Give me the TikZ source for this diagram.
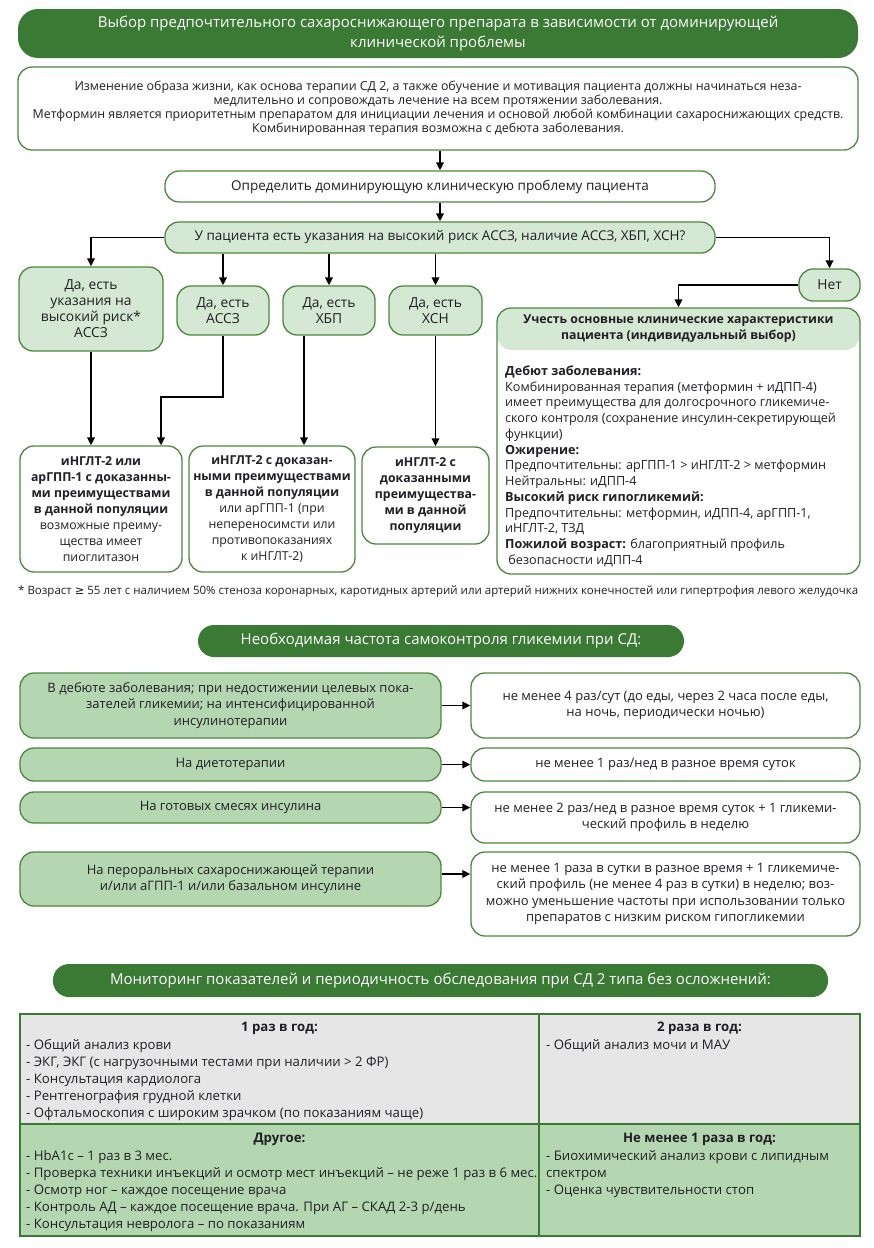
\documentclass[tikz,border=0pt]{standalone}
\usepackage{fontspec}
\usepackage{tikz}
\usetikzlibrary{arrows.meta}
\setmainfont{Open Sans}
\newfontfamily\symfont{DejaVu Sans}

\definecolor{dkgreen}{RGB}{58,122,52}
\definecolor{bordgreen}{RGB}{78,134,64}
\definecolor{ltgreen}{RGB}{213,232,211}
\definecolor{midgreen}{RGB}{180,215,178}
\definecolor{cellgrey}{RGB}{230,230,230}
\definecolor{txt}{RGB}{33,31,36}

\newcommand{\fstitle}{\fontsize{15}{20}\selectfont}
\newcommand{\fsintro}{\fontsize{12.4}{14}\selectfont}
\newcommand{\fsbody}{\fontsize{13.5}{16}\selectfont}
\newcommand{\fsres}{\fontsize{12.3}{16}\selectfont}
\newcommand{\fsyes}{\fontsize{13.8}{16}\selectfont}
\newcommand{\fspat}{\fontsize{12.6}{15.75}\selectfont}
\newcommand{\fsrow}{\fontsize{13}{16.5}\selectfont}
\newcommand{\fstab}{\fontsize{13.2}{17}\selectfont}
\newcommand{\fsnote}{\fontsize{11.5}{12}\selectfont}

\begin{document}
\begin{tikzpicture}[x=1pt,y=1pt,yscale=-1,
  box/.style={draw=bordgreen,line width=1.3pt,rounded corners=14pt,align=center,inner sep=1pt,text=txt,font=\fsbody},
  yesbox/.style={box,fill=ltgreen,font=\fsyes},
  resbox/.style={box,font=\fsres},
  rowbox/.style={box,fill=midgreen,font=\fsrow},
  freqbox/.style={box,fill=white,font=\fsrow},
  titlebox/.style={fill=dkgreen,rounded corners=16pt,text=white,align=center,font=\fstitle},
  cell/.style={draw=dkgreen,line width=2pt},
  celltext/.style={anchor=north west,align=left,inner sep=0pt,text=txt,font=\fstab},
  cellhead/.style={inner sep=0pt,text=txt,font=\fstab\bfseries},
  arr/.style={line width=1.9pt,-{Triangle[length=8pt,width=7.5pt]}}]
%set diagram to the size of the page
\fill[white] (0,0) rectangle (874,1248);
\path[use as bounding box] (0,0) rectangle (874,1248);

%%%%%%%% Part 1: choice of drug
% Title
\node[titlebox,rounded corners=20pt,minimum width=840,minimum height=49] (title1) at (438,33.5)
  {Выбор предпочтительного сахароснижающего препарата в зависимости от доминирующей\\клинической проблемы};
% Intro box
\node[box,font=\fsintro,minimum width=840,minimum height=83] (intro) at (438,108.5)
  {Изменение образа жизни, как основа терапии СД 2, а также обучение и мотивация пациента должны начинаться неза-\\
   медлительно и сопровождать лечение на всем протяжении заболевания.\\
   Метформин является приоритетным препаратом для инициации лечения и основой любой комбинации сахароснижающих средств.\\
   Комбинированная терапия возможна с дебюта заболевания.};
% Steps
\node[box,minimum width=550,minimum height=31] (define) at (440,186.5)
  {Определить доминирующую клиническую проблему пациента};
\node[box,fill=ltgreen,minimum width=550,minimum height=31] (question) at (440,237.5)
  {У пациента есть указания на высокий риск АССЗ, наличие АССЗ, ХБП, ХСН?};
% Answers
\node[yesbox,minimum width=144,minimum height=84] (yesrisk) at (91,309)
  {Да, есть\\указания на\\высокий риск*\\АССЗ};
\node[yesbox,minimum width=92,minimum height=49] (yesascvd) at (223,310.5) {Да, есть\\АССЗ};
\node[yesbox,minimum width=92,minimum height=49] (yesckd) at (329,310.5) {Да, есть\\ХБП};
\node[yesbox,minimum width=93,minimum height=49] (yeshf) at (435.5,310.5) {Да, есть\\ХСН};
\node[yesbox,minimum width=61,minimum height=32] (no) at (829.5,285) {Нет};
% Results
\node[resbox,minimum width=162,minimum height=126] (resascvd) at (101,509)
  {\textbf{иНГЛТ-2 или}\\\textbf{арГПП-1 с доказанны-}\\\textbf{ми преимуществами}\\\textbf{в данной популяции}\\
   возможные преиму-\\щества имеет\\пиоглитазон};
\node[resbox,minimum width=166,minimum height=126] (resckd) at (272,509)
  {\textbf{иНГЛТ-2 с доказан-}\\\textbf{ными преимуществами}\\\textbf{в данной популяции}\\
   или арГПП-1 (при\\непереносимсти или\\противопоказаниях\\к иНГЛТ-2)};
\node[resbox,minimum width=127,minimum height=97] (reshf) at (425.5,495.5)
  {\textbf{иНГЛТ-2 с}\\\textbf{доказанными}\\\textbf{преимущества-}\\\textbf{ми в данной}\\\textbf{популяции}};
% Individual choice
\node[fill=ltgreen,rounded corners=14pt,minimum width=362,minimum height=42,align=center,text=txt,font=\fsres\bfseries] (pathead) at (678.5,329)
  {Учесть основные клинические характеристики\\пациента (индивидуальный выбор)};
\node[box,minimum width=363,minimum height=266] (patient) at (678.5,441) {};
\node[anchor=north west,align=left,inner sep=0pt,text=txt,font=\fspat] (patbody) at (505,365.5)
  {\textbf{Дебют заболевания:}\\
   Комбинированная терапия (метформин + иДПП-4)\\
   имеет преимущества для долгосрочного гликемиче-\\
   ского контроля (сохранение инсулин-секретирующей\\
   функции)\\
   \textbf{Ожирение:}\\
   Предпочтительны: арГПП-1 > иНГЛТ-2 > метформин\\
   Нейтральны: иДПП-4\\
   \textbf{Высокий риск гипогликемий:}\\
   Предпочтительны: метформин, иДПП-4, арГПП-1,\\
   иНГЛТ-2, ТЗД\\
   \textbf{Пожилой возраст:} благоприятный профиль\\
   \ безопасности иДПП-4};
% Footnote
\node[anchor=west,inner sep=0pt,text=txt,font=\fsnote] (footnote) at (18,592)
  {* Возраст {\symfont ≥} 55 лет с наличием 50\% стеноза коронарных, каротидных артерий или артерий нижних конечностей или гипертрофия левого желудочка};

%Connectors
\draw[arr] (define.north |- intro.south) -- (define.north);
\draw[arr] (define.south) -- (question.north);
\draw[arr] (question.west) -| (yesrisk.north);
\draw[arr] (yesascvd.north |- question.south) -- (yesascvd.north);
\draw[arr] (yesckd.north |- question.south) -- (yesckd.north);
\draw[arr] (yeshf.north |- question.south) -- (yeshf.north);
\draw[arr] (question.east) -| (no.north);
\draw[arr] (no.west) -| (patient.north);
\draw[arr] (yesrisk.south) -- (yesrisk.south |- resascvd.north);
\coordinate (ascvdbend) at (161,397);
\draw[arr] (yesascvd.south) |- (ascvdbend) -- (ascvdbend |- resascvd.north);
\draw[arr] ([xshift=-25pt]yesckd.south) -- ([xshift=-25pt]yesckd.south |- resckd.north);
\draw[arr] (yeshf.south) -- (yeshf.south |- reshf.north);

%%%%%%%% Part 2: self-monitoring
\node[titlebox,minimum width=486,minimum height=32] (title2) at (441,641)
  {Необходимая частота самоконтроля гликемии при СД:};
\node[rowbox,minimum width=421,minimum height=65] (debut) at (230.5,705.5)
  {В дебюте заболевания; при недостижении целевых пока-\\зателей гликемии; на интенсифицированной\\инсулинотерапии};
\node[freqbox,minimum width=389,minimum height=65] (debutfreq) at (665.5,705.5)
  {не менее 4 раз/сут (до еды, через 2 часа после еды,\\на ночь, периодически ночью)};
\node[rowbox,minimum width=421,minimum height=33] (diet) at (230.5,764.5) {На диетотерапии};
\node[freqbox,minimum width=389,minimum height=33] (dietfreq) at (665.5,764.5)
  {не менее 1 раз/нед в разное время суток};
\node[rowbox,minimum width=421,minimum height=31] (mix) at (230.5,807.5) {На готовых смесях инсулина};
\node[freqbox,minimum width=389,minimum height=51] (mixfreq) at (665.5,817.5)
  {не менее 2 раз/нед в разное время суток + 1 гликеми-\\ческий профиль в неделю};
\node[rowbox,minimum width=421,minimum height=54] (oral) at (230.5,879)
  {На пероральных сахароснижающей терапии\\и/или аГПП-1 и/или базальном инсулине};
\node[freqbox,minimum width=389,minimum height=84] (oralfreq) at (665.5,894)
  {не менее 1 раза в сутки в разное время + 1 гликемиче-\\ский профиль (не менее 4 раз в сутки) в неделю; воз-\\можно уменьшение частоты при использовании только\\препаратов с низким риском гипогликемии};

\draw[arr] (debut.east) -- (debut.east -| debutfreq.west);
\draw[arr] (diet.east) -- (diet.east -| dietfreq.west);
\draw[arr] (mix.east) -- (mix.east -| mixfreq.west);
\draw[arr] ([yshift=-5pt]oral.east) -- ([yshift=-5pt]oral.east -| oralfreq.west);

%%%%%%%% Part 3: monitoring table
\node[titlebox,minimum width=775,minimum height=33] (title3) at (440.5,980.5)
  {Мониторинг показателей и периодичность обследования при СД 2 типа без осложнений:};
\node[cell,fill=cellgrey,minimum width=519,minimum height=110] (yearcell) at (279.5,1069) {};
\node[cell,fill=cellgrey,minimum width=321,minimum height=110] (twicecell) at (699.5,1069) {};
\node[cell,fill=midgreen,minimum width=519,minimum height=112] (othercell) at (279.5,1180) {};
\node[cell,fill=midgreen,minimum width=321,minimum height=112] (leastcell) at (699.5,1180) {};

% Text Node
\node[cellhead] (yearhead) at (279.5,1028) {1 раз в год:};
\node[celltext] (yeartext) at (26,1039.5)
  {- Общий анализ крови\\- ЭКГ, ЭКГ (с нагрузочными тестами при наличии > 2 ФР)\\- Консультация кардиолога\\
   - Рентгенография грудной клетки\\- Офтальмоскопия с широким зрачком (по показаниям чаще)};
% Text Node
\node[cellhead] (twicehead) at (699.5,1028) {2 раза в год:};
\node[celltext] (twicetext) at (546,1039.5) {- Общий анализ мочи и МАУ};
% Text Node
\node[cellhead] (otherhead) at (279.5,1139) {Другое:};
\node[celltext] (othertext) at (26,1150.5)
  {- HbA1c – 1 раз в 3 мес.\\- Проверка техники инъекций и осмотр мест инъекций – не реже 1 раз в 6 мес.\\
   - Осмотр ног – каждое посещение врача\\- Контроль АД – каждое посещение врача. При АГ – СКАД 2-3 р/день\\
   - Консультация невролога – по показаниям};
% Text Node
\node[cellhead] (leasthead) at (699.5,1139) {Не менее 1 раза в год:};
\node[celltext] (leasttext) at (546,1150.5)
  {- Биохимический анализ крови с липидным\\спектром\\- Оценка чувствительности стоп};

\end{tikzpicture}
\end{document}
